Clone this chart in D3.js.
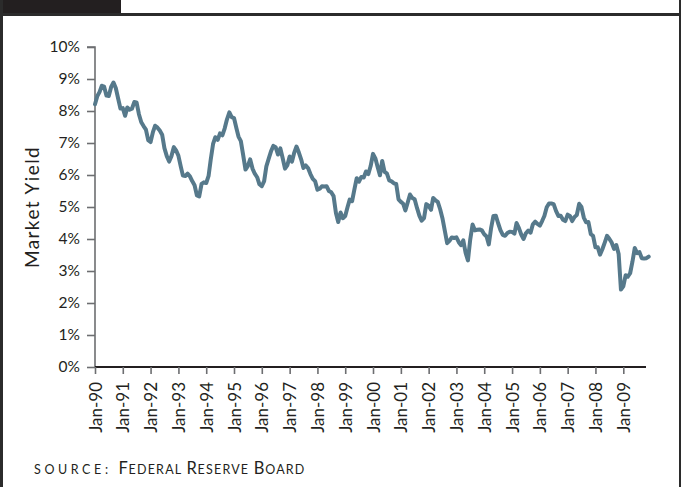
<!DOCTYPE html>
<html>
<head>
<meta charset="utf-8">
<script src="https://cdn.jsdelivr.net/npm/d3@7"></script>
<style>
  html, body { margin: 0; padding: 0; background: #fff; }
  svg { display: block; }
  text { font-family: Lato, "Open Sans", sans-serif; fill: #231f20; }
</style>
</head>
<body>
<svg id="chart" width="681" height="487"></svg>
<script>
// Monthly 10-year Treasury market yield (%), January 1990 - December 2009
const startYear = 1990;
const yields1990s = [
  8.21, 8.47, 8.59, 8.79, 8.76, 8.48, 8.47, 8.75, 8.89, 8.72, 8.39, 8.08,
  8.09, 7.85, 8.11, 8.04, 8.07, 8.28, 8.27, 7.90, 7.65, 7.53, 7.42, 7.09,
  7.03, 7.34, 7.54, 7.48, 7.39, 7.26, 6.84, 6.59, 6.42, 6.59, 6.87, 6.77,
  6.60, 6.26, 5.98, 5.97, 6.04, 5.96, 5.81, 5.68, 5.36, 5.33, 5.72, 5.77,
  5.75, 5.97, 6.48, 6.97, 7.18, 7.10, 7.30, 7.24, 7.46, 7.74, 7.96, 7.81,
  7.78, 7.47, 7.20, 7.06, 6.63, 6.17, 6.28, 6.49, 6.20, 6.04, 5.93, 5.71,
  5.65, 5.81, 6.27, 6.51, 6.74, 6.91, 6.87, 6.64, 6.83, 6.53, 6.20, 6.30,
  6.58, 6.42, 6.69, 6.89, 6.71, 6.49, 6.22, 6.30, 6.21, 6.03, 5.88, 5.81,
  5.54, 5.57, 5.65, 5.64, 5.65, 5.50, 5.46, 5.34, 4.81, 4.53, 4.83, 4.65,
  4.72, 5.00, 5.23, 5.18, 5.54, 5.90, 5.79, 5.94, 5.92, 6.11, 6.03, 6.28
];
const yields2000s = [
  6.66, 6.52, 6.26, 5.99, 6.44, 6.10, 6.05, 5.83, 5.80, 5.74, 5.72, 5.24,
  5.16, 5.10, 4.89, 5.14, 5.39, 5.28, 5.24, 4.97, 4.73, 4.57, 4.65, 5.09,
  5.04, 4.91, 5.28, 5.21, 5.16, 4.93, 4.65, 4.26, 3.87, 3.94, 4.05, 4.03,
  4.05, 3.90, 3.81, 3.96, 3.57, 3.33, 3.98, 4.45, 4.27, 4.29, 4.30, 4.27,
  4.15, 4.08, 3.83, 4.35, 4.72, 4.73, 4.50, 4.28, 4.13, 4.10, 4.19, 4.23,
  4.22, 4.17, 4.50, 4.34, 4.14, 4.00, 4.18, 4.26, 4.20, 4.46, 4.54, 4.47,
  4.42, 4.57, 4.72, 4.99, 5.11, 5.11, 5.09, 4.88, 4.72, 4.73, 4.60, 4.56,
  4.76, 4.72, 4.56, 4.69, 4.75, 5.10, 5.00, 4.67, 4.52, 4.53, 4.15, 4.10,
  3.74, 3.74, 3.51, 3.68, 3.88, 4.10, 4.01, 3.89, 3.69, 3.81, 3.53, 2.42,
  2.52, 2.87, 2.82, 2.93, 3.29, 3.72, 3.56, 3.59, 3.40, 3.39, 3.40, 3.45
];
const yTicks = [0, 1, 2, 3, 4, 5, 6, 7, 8, 9, 10];
const tickYears = d3.range(1990, 2010);
const yAxisTitle = "Market Yield";

const yields = yields1990s.concat(yields2000s);
const series = yields.map((v, i) => ({ date: new Date(startYear, i, 1), value: v }));

const svg = d3.select("#chart");

// page frame
svg.append("rect").attr("x", 0).attr("y", 0).attr("width", 121).attr("height", 14).attr("fill", "#231f20");
svg.append("line").attr("x1", 0).attr("x2", 681).attr("y1", 14.5).attr("y2", 14.5)
  .attr("stroke", "#2b2b2b").attr("stroke-width", 3);
svg.append("line").attr("x1", 1.5).attr("x2", 1.5).attr("y1", 0).attr("y2", 487)
  .attr("stroke", "#2b2b2b").attr("stroke-width", 3);
svg.append("line").attr("x1", 680).attr("x2", 680).attr("y1", 0).attr("y2", 487)
  .attr("stroke", "#2b2b2b").attr("stroke-width", 2);

const x = d3.scaleTime()
  .domain([new Date(1990, 0, 1), new Date(2009, 0, 1)])
  .range([95, 623.3]);
const y = d3.scaleLinear().domain([0, 10]).range([367, 47]);

// y axis
const yAxis = svg.append("g").attr("transform", "translate(95,0)")
  .call(d3.axisLeft(y).tickValues(yTicks).tickFormat(d => d + "%").tickSize(8).tickPadding(7));
yAxis.select(".domain").attr("stroke", "#6d6e71").attr("stroke-width", 1.6).attr("d", "M-8,47H0V367");
yAxis.selectAll(".tick line").attr("stroke", "#6d6e71").attr("stroke-width", 1.6);
yAxis.selectAll(".tick text").attr("font-size", 15.5).attr("fill", "#2a2a2a")
  .style("font-family", "Lato, sans-serif");

// x axis
const xAxis = svg.append("g").attr("transform", "translate(0,367)")
  .call(d3.axisBottom(x).tickValues(tickYears.map(yr => new Date(yr, 0, 1)))
    .tickFormat(d3.timeFormat("Jan-%y")).tickSize(7).tickSizeOuter(0));
xAxis.select(".domain").attr("stroke", "#231f20").attr("stroke-width", 2).attr("d", "M95,0H646");
xAxis.selectAll(".tick line").attr("stroke", "#6d6e71").attr("stroke-width", 1.6);
xAxis.selectAll(".tick text")
  .attr("font-size", 17)
  .attr("fill", "#2a2a2a")
  .style("font-family", "Lato, sans-serif")
  .attr("text-anchor", "end")
  .attr("transform", "translate(0,15) rotate(-90)")
  .attr("x", 0).attr("y", 0).attr("dy", "0.36em");

// axis title
svg.append("text")
  .attr("transform", "translate(39,207) rotate(-90)")
  .attr("text-anchor", "middle")
  .attr("font-size", 19)
  .attr("letter-spacing", 1.4)
  .text(yAxisTitle);

// yield line
const line = d3.line().x(d => x(d.date)).y(d => y(d.value)).curve(d3.curveLinear);
svg.append("path")
  .datum(series)
  .attr("fill", "none")
  .attr("stroke", "#56798b")
  .attr("stroke-width", 4)
  .attr("stroke-linejoin", "round")
  .attr("stroke-linecap", "round")
  .attr("d", line);

// source note in small caps
const src = svg.append("text").attr("x", 34).attr("y", 474).attr("fill", "#231f20");
src.append("tspan").attr("font-size", 12.5).attr("letter-spacing", 3.6).text("SOURCE: ");
[["F", "EDERAL "], ["R", "ESERVE "], ["B", "OARD"]].forEach(([cap, rest]) => {
  src.append("tspan").attr("font-size", 16.5).attr("letter-spacing", 0.8).text(cap);
  src.append("tspan").attr("font-size", 12.5).attr("letter-spacing", 1.2).text(rest);
});
</script>
</body>
</html>
